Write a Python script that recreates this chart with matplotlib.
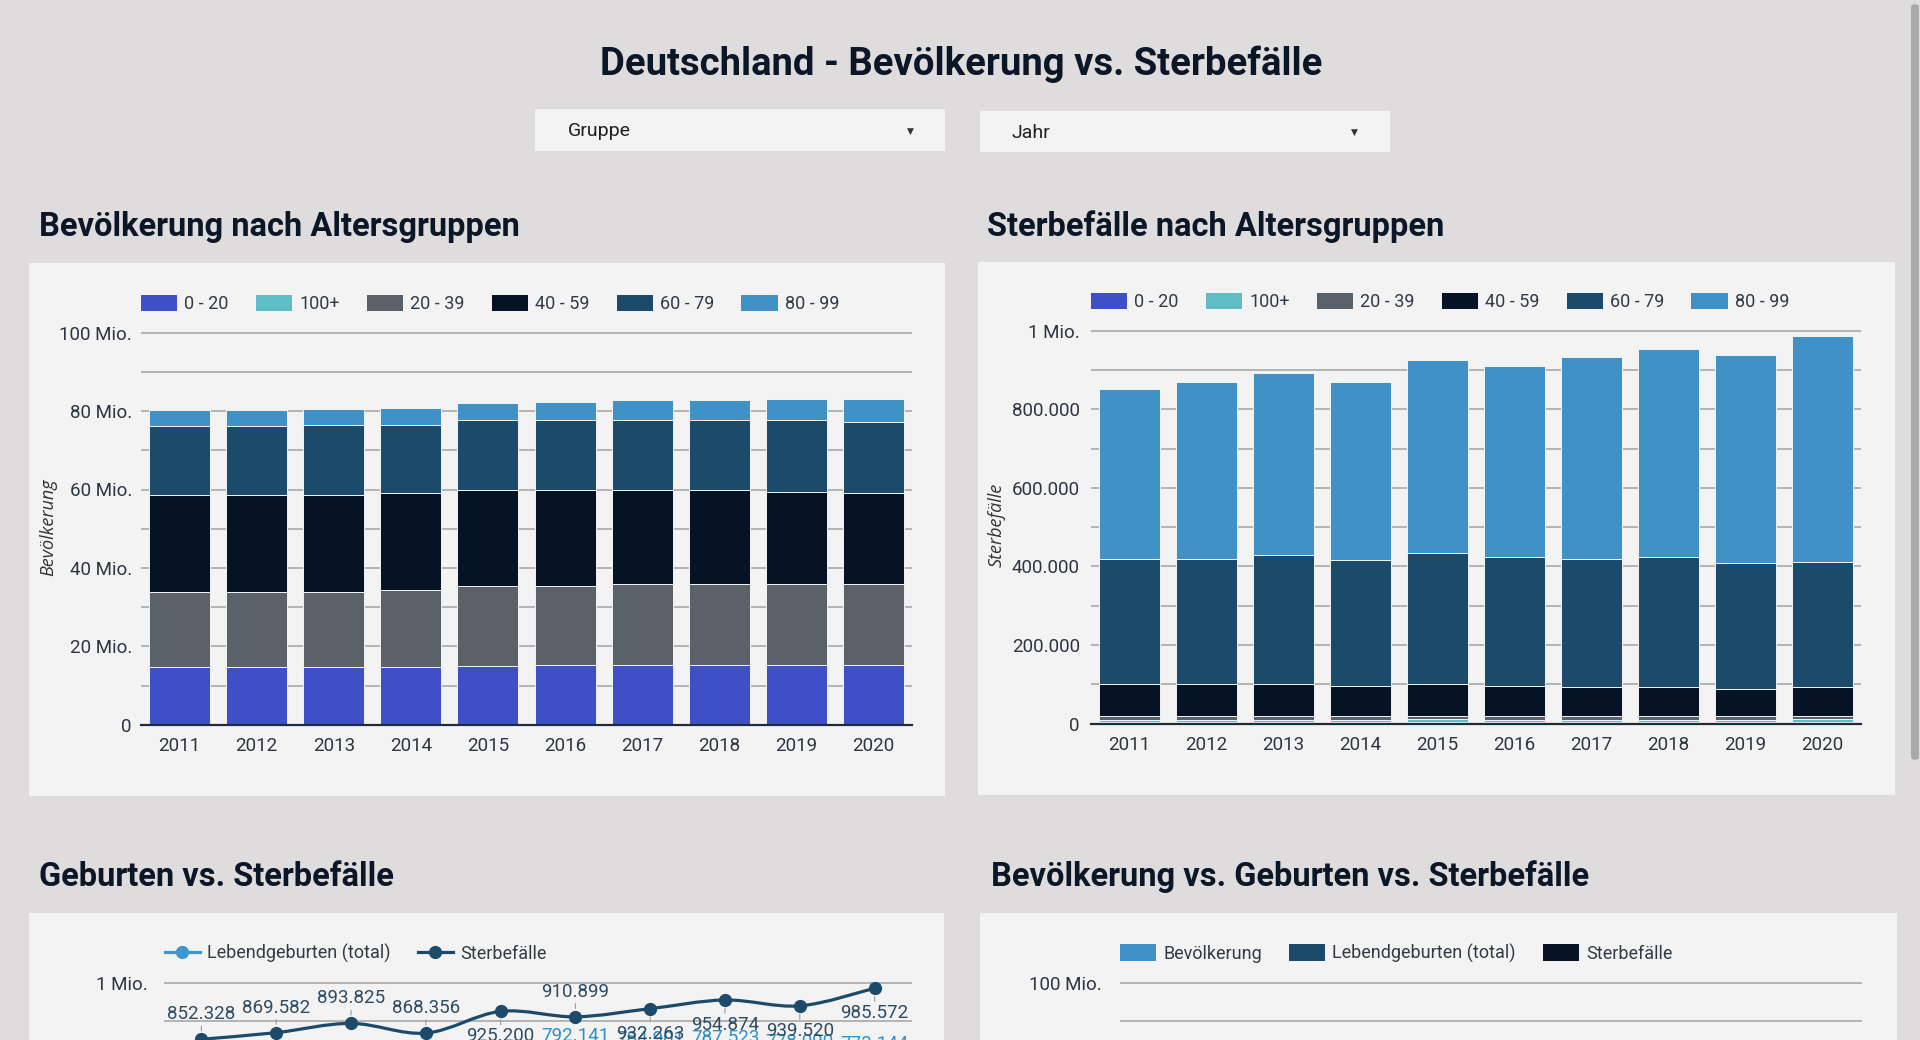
import matplotlib
matplotlib.use('Agg')
import matplotlib.pyplot as plt
from matplotlib.patches import Rectangle, Patch, PathPatch, FancyBboxPatch
from matplotlib.lines import Line2D
from matplotlib.path import Path
from matplotlib.ticker import MultipleLocator, FuncFormatter

plt.rcParams['font.family'] = ['Roboto', 'DejaVu Sans']

# ---- data ----
years = ['2011', '2012', '2013', '2014', '2015', '2016', '2017', '2018', '2019', '2020']
age_groups = ['0 - 20', '100+', '20 - 39', '40 - 59', '60 - 79', '80 - 99']

# population per age group (persons)
pop_0_20 = [14.7e6, 14.7e6, 14.7e6, 14.7e6, 15.0e6, 15.3e6, 15.3e6, 15.3e6, 15.3e6, 15.3e6]
pop_100 = [0.014e6, 0.015e6, 0.016e6, 0.017e6, 0.017e6, 0.018e6, 0.019e6, 0.020e6, 0.020e6, 0.021e6]
pop_20_39 = [19.2e6, 19.2e6, 19.2e6, 19.7e6, 20.4e6, 20.1e6, 20.5e6, 20.5e6, 20.5e6, 20.5e6]
pop_40_59 = [24.8e6, 24.8e6, 24.8e6, 24.7e6, 24.4e6, 24.4e6, 24.0e6, 24.0e6, 23.6e6, 23.2e6]
pop_60_79 = [17.4e6, 17.4e6, 17.8e6, 17.4e6, 17.8e6, 17.8e6, 17.8e6, 17.8e6, 18.2e6, 18.2e6]
pop_80_99 = [4.1e6, 4.1e6, 4.1e6, 4.4e6, 4.4e6, 4.7e6, 5.1e6, 5.1e6, 5.4e6, 5.8e6]

# deaths per age group
death_0_20 = [3700, 3600, 3500, 3500, 3600, 3600, 3500, 3500, 3400, 3300]
death_100 = [5500, 5600, 5900, 5700, 7000, 6500, 6400, 6500, 6200, 7500]
death_20_39 = [10000, 9800, 9700, 9500, 9600, 9500, 9300, 9200, 9000, 9200]
death_40_59 = [80800, 81000, 80900, 77900, 79800, 77000, 73800, 73800, 70400, 73000]
death_60_79 = [319000, 319000, 330000, 319900, 333600, 327400, 327000, 330000, 320000, 319000]
death_80_99 = [433300, 450600, 463800, 451900, 491600, 486900, 512300, 531900, 530500, 573600]

# totals
births = [662685, 673544, 682069, 714927, 737575, 792141, 784901, 787523, 778090, 773144]
deaths = [852328, 869582, 893825, 868356, 925200, 910899, 932263, 954874, 939520, 985572]
population = [80.3e6, 80.5e6, 80.8e6, 81.2e6, 82.2e6, 82.5e6, 82.8e6, 83.0e6, 83.2e6, 83.2e6]

# label side for the death line: +1 above, -1 below
death_label_side = [1, 1, 1, 1, -1, 1, -1, -1, -1, -1]

group_colors = ['#3f4fc7', '#5fbdc4', '#5a6169', '#061325', '#1b4a6b', '#4092c6']

BG = '#dedcdd'
PANEL = '#f3f3f3'
DARK = '#0b1626'
TICK = '#2e3440'
GRID = '#a3a3a3'

W, H = 1920, 1040
fig = plt.figure(figsize=(W / 100, H / 100), dpi=100, facecolor=BG)


def rect_px(x0, y0, x1, y1, color, z=-2):
    r = Rectangle((x0 / W, 1 - y1 / H), (x1 - x0) / W, (y1 - y0) / H,
                  transform=fig.transFigure, facecolor=color, edgecolor='none', zorder=z)
    fig.add_artist(r)


def axes_px(left, right, y_zero, px_per_unit, ymax):
    top = y_zero - px_per_unit * ymax
    ax = fig.add_axes([left / W, 1 - y_zero / H, (right - left) / W, (y_zero - top) / H])
    ax.set_facecolor('none')
    ax.set_ylim(0, ymax)
    ax.set_xlim(-0.5, len(years) - 0.5)
    for s in ['top', 'right', 'left']:
        ax.spines[s].set_visible(False)
    ax.spines['bottom'].set_color('#1f2b3a')
    ax.spines['bottom'].set_linewidth(1.6)
    ax.grid(axis='y', which='both', color=GRID, lw=1.1)
    ax.set_axisbelow(True)
    ax.tick_params(axis='both', which='both', length=0, labelsize=13.5, colors=TICK)
    ax.tick_params(axis='x', pad=9)
    return ax


def de_number(v):
    return f'{int(round(v)):,}'.replace(',', '.')


def mio_fmt(v, pos):
    if v == 0:
        return '0'
    return f'{v / 1e6:.0f} Mio.'


def death_fmt(v, pos):
    if v >= 1e6:
        return f'{v / 1e6:.0f} Mio.'
    return de_number(v)


# panels
rect_px(29, 263, 945, 796, PANEL)
rect_px(978, 262, 1895, 795, PANEL)
rect_px(29, 913, 944, 1060, PANEL)
rect_px(980, 913, 1897, 1060, PANEL)

# scrollbar
sb = FancyBboxPatch((1911 / W, 1 - 760 / H), 8 / W, 756 / H, boxstyle='round,pad=0,rounding_size=0.003',
                    transform=fig.transFigure, facecolor='#a9a9a9', edgecolor='none', zorder=-1)
fig.add_artist(sb)

# title and filters
fig.text(961 / W, 1 - 75 / H, 'Deutschland - Bevölkerung vs. Sterbefälle', ha='center', va='baseline',
         fontsize=27.5, fontweight='bold', color=DARK)
rect_px(535, 109, 945, 151, PANEL)
rect_px(980, 111, 1390, 152, PANEL)
fig.text(568 / W, 1 - 136 / H, 'Gruppe', fontsize=14, color='#202124', va='baseline')
fig.text(1011 / W, 1 - 138 / H, 'Jahr', fontsize=14, color='#202124', va='baseline')
for ax_x, ax_y in [(910, 131), (1354, 132)]:
    fig.text(ax_x / W, 1 - ax_y / H, '▼', fontsize=6.5, color='#333333', ha='center', va='center',
             family=['DejaVu Sans'])

# section headings
for tx, ty, txt in [(39, 236, 'Bevölkerung nach Altersgruppen'),
                    (987, 236, 'Sterbefälle nach Altersgruppen'),
                    (39, 886, 'Geburten vs. Sterbefälle'),
                    (991, 886, 'Bevölkerung vs. Geburten vs. Sterbefälle')]:
    fig.text(tx / W, 1 - ty / H, txt, fontsize=23.5, fontweight='bold', color=DARK, va='baseline')

x = list(range(len(years)))
bar_w = 0.79


def stacked(ax, series):
    bottom = [0] * len(years)
    for vals, color in zip(series, group_colors):
        ax.bar(x, vals, bar_w, bottom=bottom, color=color, edgecolor=PANEL, linewidth=0.7, zorder=1)
        bottom = [b + v for b, v in zip(bottom, vals)]


def square_legend(ax, labels, colors, y):
    handles = [Patch(facecolor=c, edgecolor='none', label=l) for l, c in zip(labels, colors)]
    ax.legend(handles=handles, ncol=len(handles), loc='center left', bbox_to_anchor=(0, y),
              frameon=False, fontsize=13, handlelength=2.0, handleheight=1.05, handletextpad=0.4,
              columnspacing=1.5, borderpad=0, borderaxespad=0, labelcolor='#333a44')


# ---- chart 1: population by age ----
ax1 = axes_px(141, 912, 724.7, 392 / 100e6, 101e6)
stacked(ax1, [pop_0_20, pop_100, pop_20_39, pop_40_59, pop_60_79, pop_80_99])
ax1.yaxis.set_major_locator(MultipleLocator(20e6))
ax1.yaxis.set_minor_locator(MultipleLocator(10e6))
ax1.yaxis.set_major_formatter(FuncFormatter(mio_fmt))
ax1.tick_params(axis='y', pad=6.5)
ax1.set_xticks(x, years)
ax1.set_ylabel('Bevölkerung', fontsize=13, style='italic', color='#333333', family=['Open Sans', 'DejaVu Sans'])
ax1.yaxis.set_label_coords(-0.109, 0.5)
square_legend(ax1, age_groups, group_colors, 1.063)

# ---- chart 2: deaths by age ----
ax2 = axes_px(1091, 1861, 723.6, 392.8 / 1e6, 1.01e6)
stacked(ax2, [death_0_20, death_100, death_20_39, death_40_59, death_60_79, death_80_99])
ax2.yaxis.set_major_locator(MultipleLocator(200000))
ax2.yaxis.set_minor_locator(MultipleLocator(100000))
ax2.yaxis.set_major_formatter(FuncFormatter(death_fmt))
ax2.tick_params(axis='y', pad=8)
ax2.set_xticks(x, years)
ax2.set_ylabel('Sterbefälle', fontsize=13, style='italic', color='#333333', family=['Open Sans', 'DejaVu Sans'])
ax2.yaxis.set_label_coords(-0.111, 0.5)
square_legend(ax2, age_groups, group_colors, 1.063)


# ---- chart 3: births vs deaths (lines) ----
def smooth_path(xs, ys):
    verts = [(xs[0], ys[0])]
    codes = [Path.MOVETO]
    n = len(xs)
    for i in range(n - 1):
        x0, y0 = xs[max(i - 1, 0)], ys[max(i - 1, 0)]
        x1, y1 = xs[i], ys[i]
        x2, y2 = xs[i + 1], ys[i + 1]
        x3, y3 = xs[min(i + 2, n - 1)], ys[min(i + 2, n - 1)]
        verts += [(x1 + (x2 - x0) / 6, y1 + (y2 - y0) / 6),
                  (x2 - (x3 - x1) / 6, y2 - (y3 - y1) / 6),
                  (x2, y2)]
        codes += [Path.CURVE4] * 3
    return Path(verts, codes)


BIRTH_C = '#4196cb'
DEATH_C = '#1b4a6b'
ax3 = axes_px(164, 912, 1365.7, 383 / 1e6, 1.01e6)
ax3.yaxis.set_major_locator(MultipleLocator(200000))
ax3.yaxis.set_minor_locator(MultipleLocator(100000))
ax3.yaxis.set_major_formatter(FuncFormatter(death_fmt))
ax3.tick_params(axis='y', pad=12)
ax3.set_xticks(x, years)
for vals, color in [(births, BIRTH_C), (deaths, DEATH_C)]:
    ax3.add_patch(PathPatch(smooth_path(x, vals), facecolor='none', edgecolor=color, lw=2.3, zorder=3))
    ax3.plot(x, vals, 'o', color=color, markersize=8.5, zorder=4)
for i, v in enumerate(births):
    ax3.annotate(de_number(v), xy=(i, v), xytext=(0, 26), textcoords='offset pixels', ha='center',
                 va='center', fontsize=13.5, color='#2f8fc9',
                 arrowprops=dict(arrowstyle='-', color='#9e9e9e', lw=0.8, shrinkA=0, shrinkB=6))
for i, v in enumerate(deaths):
    ax3.annotate(de_number(v), xy=(i, v), xytext=(0, 25 * death_label_side[i]), textcoords='offset pixels',
                 ha='center', va='center', fontsize=13.5, color='#2d4b63',
                 arrowprops=dict(arrowstyle='-', color='#9e9e9e', lw=0.8, shrinkA=0, shrinkB=6))
line_handles = [Line2D([], [], color=BIRTH_C, lw=2.3, marker='o', markersize=8.5, label='Lebendgeburten (total)'),
                Line2D([], [], color=DEATH_C, lw=2.3, marker='o', markersize=8.5, label='Sterbefälle')]
ax3.legend(handles=line_handles, ncol=2, loc='center left', bbox_to_anchor=(0.001, 1.066), frameon=False,
           fontsize=13, handlelength=1.95, handletextpad=0.4, columnspacing=1.5, borderpad=0,
           borderaxespad=0, labelcolor='#333a44')

# ---- chart 4: population vs births vs deaths (bars) ----
ax4 = axes_px(1120, 1862, 1365.7, 383 / 100e6, 101e6)
ax4.yaxis.set_major_locator(MultipleLocator(20e6))
ax4.yaxis.set_minor_locator(MultipleLocator(10e6))
ax4.yaxis.set_major_formatter(FuncFormatter(mio_fmt))
ax4.tick_params(axis='y', pad=13)
ax4.set_xticks(x, years)
bw = 0.26
series4 = [('Bevölkerung', population, '#4092c6'),
           ('Lebendgeburten (total)', births, '#1b4a6b'),
           ('Sterbefälle', deaths, '#061325')]
for k, (name, vals, color) in enumerate(series4):
    ax4.bar([i + (k - 1) * bw for i in x], vals, bw, color=color, label=name, zorder=1)
square_legend(ax4, [s[0] for s in series4], [s[2] for s in series4], 1.066)

fig.savefig('out.png', dpi=100, facecolor=BG)
